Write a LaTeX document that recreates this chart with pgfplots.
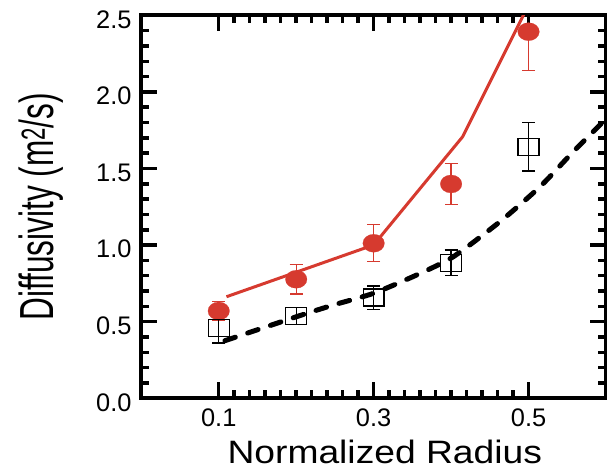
\documentclass[border=0pt]{standalone}
\usepackage{fontspec}
\setmainfont{Liberation Sans}
\usepackage{graphicx}
\usepackage{pgfplots}
\pgfplotsset{compat=1.18}
\definecolor{myred}{RGB}{214,58,47}

\begin{document}
\begin{tikzpicture}
\begin{axis}[
 at={(0,0)}, anchor=south west,
 scale only axis, width=464.7bp, height=383bp,
 xmin=0, xmax=0.6, ymin=0, ymax=2.5,
 xtick={0.1,0.3,0.5}, ytick={0,0.5,1,1.5,2,2.5},
 minor x tick num=9, minor y tick num=4,
 tick align=inside, tick pos=both,
 major tick length=16bp, minor tick length=8bp,
 tick style={line width=3.5bp, black},
 axis line style={line width=4bp},
 /pgf/number format/assume math mode=true,
 /pgf/number format/fixed, /pgf/number format/fixed zerofill, /pgf/number format/precision=1,
 ticklabel style={font=\fontsize{25.5}{26}\selectfont, inner sep=0pt},
 xticklabel style={anchor=north, yshift=-10bp},
 yticklabel style={anchor=east, xshift=-9.6bp, yshift=-4bp},
 xlabel={\scalebox{1.15}[1]{Normalized Radius}},
 ylabel={\scalebox{0.66}[1]{Diffusivity (m\textsuperscript{2}/s)}},
 xlabel style={font=\fontsize{32.5}{33}\selectfont, at={(axis description cs:0.524,0)}, anchor=base, yshift=-65bp},
 ylabel style={font=\fontsize{48}{49}\selectfont, at={(axis description cs:-0.188,0.5)}, anchor=base},
]
% red model line
\addplot[myred, line width=3bp] coordinates {(0.110,0.663) (0.30,1.001) (0.415,1.708) (0.52,2.77)};
% red data
\addplot[only marks, mark=*, mark size=9bp,
  mark options={xscale=1.2, fill=myred, draw=myred, line width=0.2bp},
  error bars/.cd, y dir=both, y explicit,
  error bar style={myred, line width=1.2bp},
  error mark options={rotate=90, mark size=6.5bp, myred, line width=1.2bp}]
  coordinates {
  (0.1,0.570) +- (0,0.060)
  (0.2,0.777) +- (0,0.096)
  (0.3,1.012) +- (0,0.120)
  (0.4,1.399) +- (0,0.136)
  (0.5,2.393) += (0,0) -= (0,0.252)
  };
% black data
\addplot[only marks, black, mark=square, mark size=8.5bp,
  mark options={xscale=1.23, line width=1.3bp},
  error bars/.cd, y dir=both, y explicit,
  error bar style={black, line width=1.3bp},
  error mark options={rotate=90, mark size=6.5bp, black, line width=1.3bp}]
  coordinates {
  (0.1,0.461) +- (0,0.100)
  (0.2,0.539) +- (0,0.055)
  (0.3,0.657) +- (0,0.076)
  (0.4,0.885) +- (0,0.084)
  (0.5,1.642) +- (0,0.159)
  };
% black dashed model line
\addplot[black, line width=5bp, line cap=round, dash pattern=on 11bp off 13bp, smooth, tension=0.4]
  coordinates {(0.108,0.376) (0.2006,0.533) (0.248,0.609) (0.2996,0.685) (0.3556,0.805) (0.4028,0.924) (0.4631,1.153) (0.5148,1.381) (0.5578,1.610) (0.6009,1.828)};
\end{axis}
\pgfresetboundingbox
\path[use as bounding box] (-141.3bp,-70.7bp) rectangle (465.7bp,398.3bp);
\end{tikzpicture}
\end{document}
